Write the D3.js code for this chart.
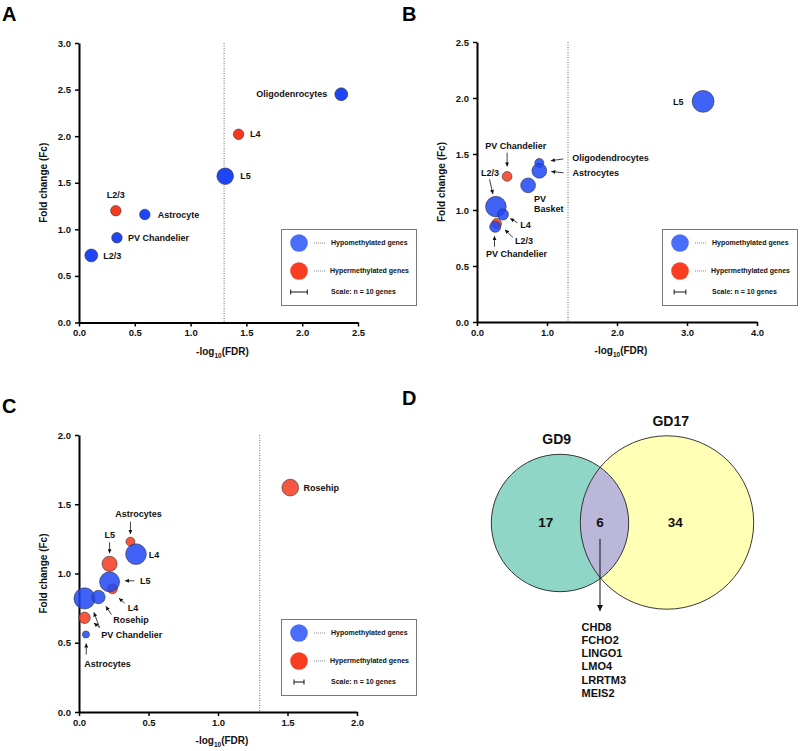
<!DOCTYPE html>
<html>
<head>
<meta charset="utf-8">
<script src="https://cdn.jsdelivr.net/npm/d3@7"></script>
<style>
  body { margin: 0; background: #fff; }
  svg { display: block; font-family: "Liberation Sans", Arial, sans-serif; font-weight: bold; }
</style>
</head>
<body>
<script>
// ---- data: panel A
const aNames = ["Oligodenrocytes", "L4", "L5", "L2/3", "Astrocyte", "PV Chandelier", "L2/3"];
const aFdr = [2.35, 1.43, 1.31, 0.33, 0.59, 0.34, 0.11];
const aFc = [2.45, 2.02, 1.57, 1.2, 1.16, 0.91, 0.72];
const aGenes = [6, 4, 10, 4, 4, 4, 6];
const aType = ["hypo", "hyper", "hypo", "hyper", "hypo", "hypo", "hypo"];

// ---- data: panel B
const bNames = ["L5", "Oligodendrocytes", "Astrocytes", "PV Basket", "PV Chandelier", "L2/3", "L4", "L2/3", "PV Chandelier"];
const bFdr = [3.23, 0.89, 0.89, 0.73, 0.43, 0.27, 0.37, 0.28, 0.26];
const bFc = [1.97, 1.42, 1.35, 1.22, 1.3, 1.03, 0.96, 0.88, 0.85];
const bGenes = [35, 6, 16, 16, 7, 31, 9, 7, 9];
const bType = ["hypo", "hypo", "hypo", "hypo", "hyper", "hypo", "hypo", "hyper", "hypo"];

// ---- data: panel C
const cNames = ["Rosehip", "Astrocytes", "L4", "L5", "L5", "L4", "PV Chandelier", "Rosehip", "PV Chandelier", "Astrocytes"];
const cFdr = [1.52, 0.37, 0.41, 0.22, 0.22, 0.24, 0.04, 0.14, 0.04, 0.05];
const cFc = [1.62, 1.23, 1.14, 1.07, 0.94, 0.89, 0.82, 0.83, 0.68, 0.56];
const cGenes = [28, 8, 43, 23, 40, 10, 45, 18, 13, 5];
const cType = ["hyper", "hyper", "hypo", "hyper", "hypo", "hyper", "hypo", "hypo", "hyper", "hypo"];

const fdrCutoff = 1.3;
const scaleGenes = 10;
const legendLabels = ["Hypomethylated genes", "Hypermethylated genes"];

// ---- data: panel D
const vennSets = ["GD9", "GD17"];
const vennOnly = [17, 34];
const vennShared = 6;
const sharedGenes = ["CHD8", "FCHO2", "LINGO1", "LMO4", "LRRTM3", "MEIS2"];

const BLUE = "#1f46f6";
const RED = "#f63a1f";
const LEG_BLUE = "#4b6ef8";
const LEG_RED = "#f83d20";

const svg = d3.select("body").append("svg").attr("width", 800).attr("height", 751);
svg.append("rect").attr("width", 800).attr("height", 751).attr("fill", "#fff");

const defs = svg.append("defs");
defs.append("marker")
  .attr("id", "arr")
  .attr("viewBox", "0 0 10 10")
  .attr("refX", 10).attr("refY", 5)
  .attr("markerUnits", "userSpaceOnUse")
  .attr("markerWidth", 4.5).attr("markerHeight", 4)
  .attr("orient", "auto")
  .append("path").attr("d", "M0,0 L10,5 L0,10 z").attr("fill", "#111");
defs.append("marker")
  .attr("id", "arrBig")
  .attr("viewBox", "0 0 10 10")
  .attr("refX", 10).attr("refY", 5)
  .attr("markerUnits", "userSpaceOnUse")
  .attr("markerWidth", 8).attr("markerHeight", 6)
  .attr("orient", "auto")
  .append("path").attr("d", "M0,0 L10,5 L0,10 z").attr("fill", "#111");

function panelLetter(t, x, y) {
  svg.append("text").attr("x", x).attr("y", y).attr("font-size", 20).attr("fill", "#000").text(t);
}

function drawScatter(cfg) {
  const g = svg.append("g").attr("transform", `translate(${cfg.left},${cfg.top})`);
  const x = d3.scaleLinear().domain([0, cfg.xMax]).range([0, cfg.width]);
  const y = d3.scaleLinear().domain([0, cfg.yMax]).range([cfg.height, 0]);
  const r = d3.scaleSqrt().domain([0, scaleGenes]).range([0, cfg.barPx / 2]);

  // cut-off line
  g.append("line")
    .attr("x1", x(fdrCutoff)).attr("x2", x(fdrCutoff))
    .attr("y1", y(cfg.yMax)).attr("y2", y(0))
    .attr("stroke", "#444").attr("stroke-width", 0.8).attr("stroke-dasharray", "1,1.5");

  const xAxis = d3.axisBottom(x).tickValues(cfg.xTicks).tickFormat(d3.format(".1f"))
    .tickSize(4).tickSizeOuter(0).tickPadding(3);
  const yAxis = d3.axisLeft(y).tickValues(cfg.yTicks).tickFormat(d3.format(".1f"))
    .tickSize(4).tickSizeOuter(0).tickPadding(4);

  const gx = g.append("g").attr("transform", `translate(0,${cfg.height})`).call(xAxis);
  const gy = g.append("g").call(yAxis);
  [gx, gy].forEach(a => {
    a.select(".domain").attr("stroke", "#000").attr("stroke-width", 2);
    a.selectAll(".tick line").attr("stroke", "#000").attr("stroke-width", 1.5);
    a.selectAll(".tick text").attr("font-size", 9.5).attr("font-weight", "bold")
      .attr("font-family", "Liberation Sans, Arial, sans-serif").attr("fill", "#111");
  });

  // axis titles
  g.append("text")
    .attr("transform", `translate(-32,${cfg.height / 2}) rotate(-90)`)
    .attr("text-anchor", "middle").attr("font-size", 10).attr("fill", "#111")
    .text("Fold change (Fc)");
  const xt = g.append("text")
    .attr("x", cfg.width / 2 + 4).attr("y", cfg.height + 32)
    .attr("text-anchor", "middle").attr("font-size", 10).attr("fill", "#111");
  xt.append("tspan").text("-log");
  xt.append("tspan").attr("font-size", 6.5).attr("dy", 3).text("10");
  xt.append("tspan").attr("dy", -3).text("(FDR)");

  // points: hypermethylated first, hypomethylated on top
  const pts = cfg.names.map((n, i) => ({
    i, name: n, fdr: cfg.fdr[i], fc: cfg.fc[i], genes: cfg.genes[i], type: cfg.type[i]
  }));
  const order = pts.filter(d => d.type === "hyper").concat(pts.filter(d => d.type === "hypo"));
  g.selectAll(".pt").data(order).enter().append("circle")
    .attr("class", "pt")
    .attr("cx", d => x(d.fdr)).attr("cy", d => y(d.fc)).attr("r", d => r(d.genes))
    .attr("fill", d => d.type === "hypo" ? BLUE : RED)
    .attr("fill-opacity", cfg.opacity)
    .attr("stroke", "#333").attr("stroke-width", 0.6);

  // annotations
  cfg.notes.forEach(n => {
    const px = x(pts[n.i].fdr), py = y(pts[n.i].fc);
    const lines = n.wrap ? pts[n.i].name.split(" ") : [pts[n.i].name];
    const t = g.append("text")
      .attr("x", px + n.dx).attr("y", py + n.dy)
      .attr("text-anchor", n.anchor || "start").attr("font-size", 9).attr("fill", "#111");
    lines.forEach((l, k) => {
      t.append("tspan").attr("x", px + n.dx).attr("dy", k === 0 ? "0.35em" : "1.07em").text(l);
    });
    (n.arrows || []).forEach(a => {
      g.append("line")
        .attr("x1", px + a[0]).attr("y1", py + a[1])
        .attr("x2", px + a[2]).attr("y2", py + a[3])
        .attr("stroke", "#111").attr("stroke-width", 0.8)
        .attr("marker-end", "url(#arr)");
    });
  });

  // legend
  const lg = svg.append("g").attr("transform", `translate(${cfg.legend[0]},${cfg.legend[1]})`);
  lg.append("rect").attr("x", 0.5).attr("y", 0.5).attr("width", 135).attr("height", 76)
    .attr("fill", "#fff").attr("stroke", "#777").attr("stroke-width", 1);
  [LEG_BLUE, LEG_RED].forEach((c, k) => {
    const cy = 14 + k * 28;
    lg.append("circle").attr("cx", 18).attr("cy", cy).attr("r", 8.8).attr("fill", c);
    lg.append("line").attr("x1", 33).attr("x2", 44).attr("y1", cy).attr("y2", cy)
      .attr("stroke", "#555").attr("stroke-width", 0.7).attr("stroke-dasharray", "1,1");
    lg.append("text").attr("x", 50 - k).attr("y", cy).attr("dy", "0.35em")
      .attr("font-size", 7).attr("fill", "#111").text(legendLabels[k]);
  });
  const bar = r(scaleGenes) * 2;
  const by = 63;
  lg.append("path")
    .attr("d", `M${18 - bar / 2},${by - 2.5}V${by + 2.5}M${18 - bar / 2},${by}H${18 + bar / 2}M${18 + bar / 2},${by - 2.5}V${by + 2.5}`)
    .attr("stroke", "#111").attr("stroke-width", 1).attr("fill", "none");
  lg.append("text").attr("x", 50).attr("y", by).attr("dy", "0.35em")
    .attr("font-size", 7).attr("fill", "#111").text(`Scale: n = ${scaleGenes} genes`);
}

// ---- Panel A
panelLetter("A", 2, 20.5);
drawScatter({
  left: 79, top: 43, width: 279, height: 279.5,
  xMax: 2.5, xTicks: [0, 0.5, 1, 1.5, 2, 2.5],
  yMax: 3, yTicks: [0, 0.5, 1, 1.5, 2, 2.5, 3],
  names: aNames, fdr: aFdr, fc: aFc, genes: aGenes, type: aType,
  barPx: 16.6, opacity: 1, legend: [281, 229],
  notes: [
    { i: 0, dx: -14, dy: 0, anchor: "end" },
    { i: 1, dx: 11.5, dy: 0 },
    { i: 2, dx: 15, dy: 0 },
    { i: 3, dx: 0, dy: -16, anchor: "middle" },
    { i: 4, dx: 13, dy: 0 },
    { i: 5, dx: 11, dy: 0 },
    { i: 6, dx: 12, dy: 0 }
  ]
});

// ---- Panel B
panelLetter("B", 402, 20.5);
drawScatter({
  left: 477, top: 42, width: 280, height: 280,
  xMax: 4, xTicks: [0, 1, 2, 3, 4],
  yMax: 2.5, yTicks: [0, 0.5, 1, 1.5, 2, 2.5],
  names: bNames, fdr: bFdr, fc: bFc, genes: bGenes, type: bType,
  barPx: 11.7, opacity: 0.85, legend: [662, 229],
  notes: [
    { i: 0, dx: -19.5, dy: 0, anchor: "end" },
    { i: 1, dx: 33, dy: -5, arrows: [[24, -4, 11.5, -2.3]] },
    { i: 2, dx: 33.3, dy: 2.3, arrows: [[24.3, 2, 12, 0.7]] },
    { i: 3, dx: 6, dy: 13.6, wrap: true },
    { i: 4, dx: 8.7, dy: -31, anchor: "middle", arrows: [[0, -23.7, 0, -10]] },
    { i: 5, dx: -15, dy: -33.4, arrows: [[-6.4, -27.4, -3, -12.7]] },
    { i: 6, dx: 17.3, dy: 10.7, arrows: [[14.6, 8.3, 7.3, 4]] },
    { i: 7, dx: 18.3, dy: 17, arrows: [[16.3, 14, 8.3, 6.3]] },
    { i: 8, dx: 21.3, dy: 27, anchor: "middle", arrows: [[-0.7, 20, -0.7, 9.3]] }
  ]
});

// ---- Panel C
panelLetter("C", 2, 412.5);
drawScatter({
  left: 79, top: 435, width: 278, height: 277,
  xMax: 2, xTicks: [0, 0.5, 1, 1.5, 2],
  yMax: 2, yTicks: [0, 0.5, 1, 1.5, 2],
  names: cNames, fdr: cFdr, fc: cFc, genes: cGenes, type: cType,
  barPx: 10, opacity: 0.85, legend: [281, 619],
  notes: [
    { i: 0, dx: 13.3, dy: 0 },
    { i: 1, dx: 8, dy: -27.7, anchor: "middle", arrows: [[0, -20, 0, -7.7]] },
    { i: 2, dx: 12.7, dy: 0.7 },
    { i: 3, dx: 0.3, dy: -28.6, anchor: "middle", arrows: [[0, -21.6, 0, -10.6]] },
    { i: 4, dx: 30.4, dy: -1, arrows: [[24.7, -1, 15.4, -1]] },
    { i: 5, dx: 15.3, dy: 19, arrows: [[12.3, 14.4, 6.6, 9.4]] },
    { i: 7, dx: 14.7, dy: 22.6, arrows: [[13, 17.6, 7.3, 9.3]] },
    { i: 6, dx: 16.7, dy: 36.6, arrows: [[15, 29, 9.3, 14], [15, 29, 9.3, 24.6]] },
    { i: 9, dx: -1.7, dy: 29, arrows: [[0.3, 20, 0.3, 9]] }
  ]
});

// ---- Panel D: Venn diagram
panelLetter("D", 402, 405);
const venn = [
  { cx: 560, cy: 523, r: 68.7, fill: "#8fd6c7" },
  { cx: 667, cy: 522.5, r: 86.7, fill: "#ffffb5" }
];
const vg = svg.append("g");
defs.append("clipPath").attr("id", "clipRight")
  .append("circle").attr("cx", venn[1].cx).attr("cy", venn[1].cy).attr("r", venn[1].r);
vg.selectAll(".vfill").data(venn).enter().append("circle")
  .attr("cx", d => d.cx).attr("cy", d => d.cy).attr("r", d => d.r).attr("fill", d => d.fill);
vg.append("circle")
  .attr("cx", venn[0].cx).attr("cy", venn[0].cy).attr("r", venn[0].r)
  .attr("fill", "#bab7d9").attr("clip-path", "url(#clipRight)");
vg.selectAll(".vline").data(venn).enter().append("circle")
  .attr("cx", d => d.cx).attr("cy", d => d.cy).attr("r", d => d.r)
  .attr("fill", "none").attr("stroke", "#222").attr("stroke-width", 0.9);

const setLabelPos = [[556.7, 439], [670.7, 420.7]];
vennSets.forEach((s, k) => {
  vg.append("text").attr("x", setLabelPos[k][0]).attr("y", setLabelPos[k][1]).attr("dy", "0.35em")
    .attr("text-anchor", "middle").attr("font-size", 14).attr("fill", "#111").text(s);
});
const countPos = [[545.7, 522], [675.3, 522]];
vennOnly.forEach((c, k) => {
  vg.append("text").attr("x", countPos[k][0]).attr("y", countPos[k][1]).attr("dy", "0.35em")
    .attr("text-anchor", "middle").attr("font-size", 13.5).attr("fill", "#111").text(c);
});
vg.append("text").attr("x", 600).attr("y", 522).attr("dy", "0.35em")
  .attr("text-anchor", "middle").attr("font-size", 13.5).attr("fill", "#111").text(vennShared);

vg.append("line").attr("x1", 600).attr("y1", 539).attr("x2", 600).attr("y2", 611)
  .attr("stroke", "#111").attr("stroke-width", 1).attr("marker-end", "url(#arrBig)");

const geneText = vg.append("text").attr("font-size", 11).attr("fill", "#111");
sharedGenes.forEach((gname, k) => {
  geneText.append("tspan").attr("x", 581.5).attr("y", 626.7 + k * 13.3).attr("dy", "0.35em").text(gname);
});
</script>
</body>
</html>
